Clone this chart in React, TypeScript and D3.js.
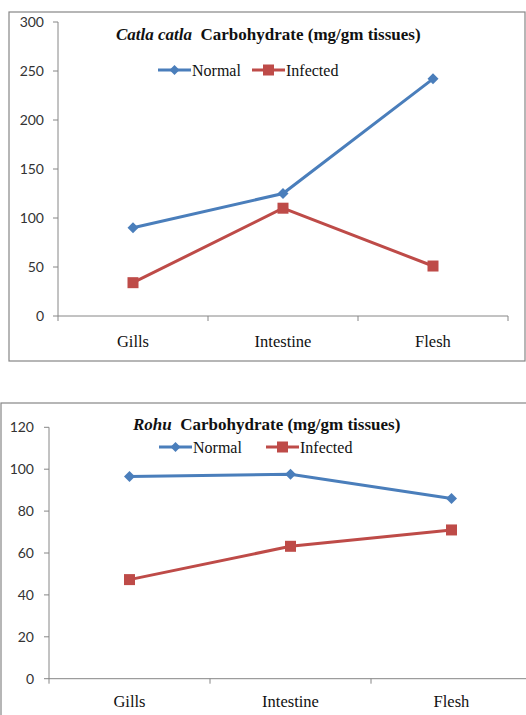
import React from "react";
import * as d3 from "d3";

const categories = ["Gills", "Intestine", "Flesh"];
const catlaNormal = [90, 125, 242];
const catlaInfected = [34, 110, 51];
const catlaTicks = [0, 50, 100, 150, 200, 250, 300];
const rohuNormal = [96.5, 97.6, 86];
const rohuInfected = [47.3, 63.2, 71];
const rohuTicks = [0, 20, 40, 60, 80, 100, 120];
const seriesNames = ["Normal", "Infected"];

const BLUE = "#4A7EBB";
const RED = "#BE4B48";
const AXIS = "#868686";
const SERIF = "'Liberation Serif', 'Times New Roman', serif";
const SANS = "Lato, 'Liberation Sans', sans-serif";

type ChartProps = {
  species: string;
  normal: number[];
  infected: number[];
  ticks: number[];
  border: [number, number, number, number];
  xRange: [number, number];
  yRange: [number, number];
  titleX: number;
  titleY: number;
  legendY: number;
  legendX: [number, number];
  tickLabelRight: number;
  catLabelY: number;
};

function Diamond({ x, y, s }: { x: number; y: number; s: number }) {
  return (
    <path
      d={`M${x},${y - s}L${x + s},${y}L${x},${y + s}L${x - s},${y}Z`}
      fill={BLUE}
    />
  );
}
function Square({ x, y, s }: { x: number; y: number; s: number }) {
  return <rect x={x - s} y={y - s} width={2 * s} height={2 * s} fill={RED} />;
}

function Chart(p: ChartProps) {
  const x = d3.scaleBand<string>().domain(categories).range(p.xRange);
  const yMax = p.ticks[p.ticks.length - 1];
  const y = d3.scaleLinear().domain([0, yMax]).range(p.yRange);
  const cx = (c: string) => (x(c) as number) + x.bandwidth() / 2;
  const line = d3
    .line<number>()
    .x((_, i) => cx(categories[i]))
    .y((d) => y(d));
  const [bx, by, bw, bh] = p.border;
  const boundaries = categories.map((c) => x(c) as number).concat([p.xRange[1]]);
  return (
    <g>
      <rect x={bx} y={by} width={bw} height={bh} fill="white" stroke={AXIS} strokeWidth={1.2} />
      {/* y axis */}
      <line x1={p.xRange[0]} x2={p.xRange[0]} y1={p.yRange[1]} y2={p.yRange[0]} stroke={AXIS} />
      {p.ticks.map((t) => (
        <g key={t}>
          <line x1={p.xRange[0] - 5} x2={p.xRange[0]} y1={y(t)} y2={y(t)} stroke={AXIS} />
          <text
            x={p.tickLabelRight}
            y={y(t)}
            dy="0.35em"
            textAnchor="end"
            fontFamily={SANS}
            fontSize={14}
            fill="#333"
          >
            {t}
          </text>
        </g>
      ))}
      {/* x axis */}
      <line x1={p.xRange[0]} x2={p.xRange[1]} y1={p.yRange[0]} y2={p.yRange[0]} stroke={AXIS} />
      {boundaries.map((b, i) => (
        <line key={i} x1={b} x2={b} y1={p.yRange[0]} y2={p.yRange[0] + 5} stroke={AXIS} />
      ))}
      {categories.map((c) => (
        <text
          key={c}
          x={cx(c)}
          y={p.catLabelY}
          textAnchor="middle"
          fontFamily={SERIF}
          fontSize={16.5}
          fill="#111"
        >
          {c}
        </text>
      ))}
      {/* lines */}
      <path d={line(p.normal) || ""} fill="none" stroke={BLUE} strokeWidth={3} />
      <path d={line(p.infected) || ""} fill="none" stroke={RED} strokeWidth={3} />
      {p.normal.map((v, i) => (
        <Diamond key={i} x={cx(categories[i])} y={y(v)} s={5.5} />
      ))}
      {p.infected.map((v, i) => (
        <Square key={i} x={cx(categories[i])} y={y(v)} s={5.5} />
      ))}
      {/* title */}
      <text x={p.titleX} y={p.titleY} fontFamily={SERIF} fontSize={17} fontWeight="bold" fill="#111">
        <tspan fontStyle="italic">{p.species}</tspan>
        <tspan>{"\u00a0\u00a0Carbohydrate (mg/gm tissues)"}</tspan>
      </text>
      {/* legend */}
      {seriesNames.map((s, i) => {
        const lx = p.legendX[i];
        const col = i === 0 ? BLUE : RED;
        return (
          <g key={s}>
            <line x1={lx} x2={lx + 33} y1={p.legendY} y2={p.legendY} stroke={col} strokeWidth={3} />
            {i === 0 ? <Diamond x={lx + 16.5} y={p.legendY} s={5} /> : <Square x={lx + 16.5} y={p.legendY} s={5.5} />}
            <text x={lx + 34} y={p.legendY} dy="0.35em" fontFamily={SERIF} fontSize={16} fill="#111">
              {s}
            </text>
          </g>
        );
      })}
    </g>
  );
}

export default function App() {
  return (
    <svg
      width={526}
      height={715}
      style={{ position: "absolute", left: 0, top: 0, background: "white" }}
    >
      <Chart
        species="Catla catla"
        normal={catlaNormal}
        infected={catlaInfected}
        ticks={catlaTicks}
        border={[9, 12, 516, 349]}
        xRange={[58, 508]}
        yRange={[316, 22]}
        titleX={116}
        titleY={40}
        legendY={70}
        legendX={[158, 252]}
        tickLabelRight={44}
        catLabelY={347}
      />
      <Chart
        species="Rohu"
        normal={rohuNormal}
        infected={rohuInfected}
        ticks={rohuTicks}
        border={[1, 403, 540, 330]}
        xRange={[49, 532]}
        yRange={[678.7, 427.3]}
        titleX={133}
        titleY={430}
        legendY={447}
        legendX={[159, 266]}
        tickLabelRight={34}
        catLabelY={707}
      />
    </svg>
  );
}
